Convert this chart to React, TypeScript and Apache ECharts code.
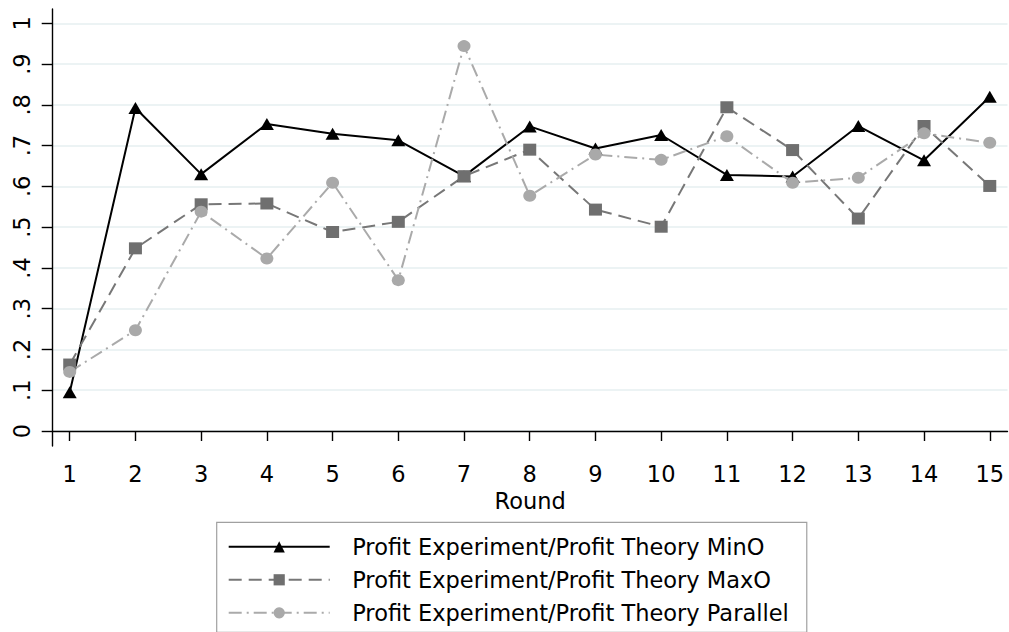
import React, { useEffect, useRef } from "react";
import * as echarts from "echarts";

const rounds = [1, 2, 3, 4, 5, 6, 7, 8, 9, 10, 11, 12, 13, 14, 15];
const minO = [0.095, 0.792, 0.63, 0.753, 0.729, 0.713, 0.625, 0.747, 0.693, 0.726, 0.628, 0.624, 0.748, 0.664, 0.82];
const maxO = [0.163, 0.448, 0.556, 0.558, 0.488, 0.513, 0.625, 0.69, 0.543, 0.501, 0.794, 0.689, 0.521, 0.748, 0.601];
const parallel = [0.145, 0.247, 0.538, 0.423, 0.609, 0.37, 0.944, 0.577, 0.678, 0.665, 0.723, 0.609, 0.621, 0.73, 0.707];
const yTickValues = [0, 0.1, 0.2, 0.3, 0.4, 0.5, 0.6, 0.7, 0.8, 0.9, 1];
const yTickLabels = ["0", ".1", ".2", ".3", ".4", ".5", ".6", ".7", ".8", ".9", "1"];
const seriesNames = [
  "Profit Experiment/Profit Theory MinO",
  "Profit Experiment/Profit Theory MaxO",
  "Profit Experiment/Profit Theory Parallel",
];
const xName = "Round";

const FONT = "DejaVu Sans";

export default function App() {
  const ref = useRef<HTMLDivElement>(null);
  useEffect(() => {
    if (!ref.current) return;
    const chart = echarts.init(ref.current, null, { renderer: "svg" });
    const pair = (arr: number[]) => rounds.map((r, i) => [r, arr[i]]);
    chart.setOption({
      animation: false,
      backgroundColor: "#ffffff",
      textStyle: { fontFamily: FONT },
      grid: { left: 52.7, right: 1.5, top: 9, bottom: 186 },
      xAxis: {
        type: "value",
        min: 0.741,
        max: 15.27,
        name: xName,
        nameLocation: "middle",
        nameGap: 35,
        nameTextStyle: { fontSize: 22.5, color: "#000", fontFamily: FONT },
        axisLine: { show: true, lineStyle: { color: "#000", width: 1.4 } },
        axisTick: { show: true, length: 10, customValues: rounds, lineStyle: { color: "#000", width: 1.4 } },
        axisLabel: { customValues: rounds, fontSize: 22.5, color: "#000", margin: 16, fontFamily: FONT },
        splitLine: { show: false },
      },
      yAxis: {
        type: "value",
        min: -0.0368,
        max: 1.035,
        axisLine: { show: true, lineStyle: { color: "#000", width: 1.4 } },
        axisTick: { show: true, length: 11, customValues: yTickValues, lineStyle: { color: "#000", width: 1.4 } },
        axisLabel: {
          customValues: yTickValues,
          rotate: 90,
          fontSize: 22.5,
          color: "#000",
          margin: 19,
          fontFamily: FONT,
          formatter: (v: number) => {
            const idx = yTickValues.findIndex((t) => Math.abs(t - v) < 1e-6);
            return idx >= 0 ? yTickLabels[idx] : "";
          },
        },
        splitLine: { show: true, lineStyle: { color: "#e6eff1", width: 1.6 } },
      },
      legend: {
        orient: "vertical",
        left: 216.7,
        top: 522.3,
        height: 100,
        padding: [13, 18, 8, 11],
        itemWidth: 101,
        itemHeight: 14,
        itemGap: 10,
        borderColor: "#a0a0a0",
        borderWidth: 1.2,
        textStyle: { fontSize: 22.5, lineHeight: 22.5, color: "#000", fontFamily: FONT, padding: [0, 0, 0, 17.5] },
        data: seriesNames,
      },
      series: [
        {
          name: seriesNames[0],
          type: "line",
          data: pair(minO),
          symbol: "triangle",
          symbolSize: [14, 12],
          itemStyle: { color: "#000000" },
          lineStyle: { color: "#000000", width: 2 },
        },
        {
          name: seriesNames[1],
          type: "line",
          data: pair(maxO),
          symbol: "rect",
          symbolSize: [13, 12],
          itemStyle: { color: "#6f6f6f" },
          lineStyle: { color: "#777777", width: 2, type: [13, 7] },
        },
        {
          name: seriesNames[2],
          type: "line",
          data: pair(parallel),
          symbol: "circle",
          symbolSize: [13, 12],
          itemStyle: { color: "#a9a9a9" },
          lineStyle: { color: "#aaaaaa", width: 2, type: [13, 5, 2, 5] },
        },
      ],
    });
    return () => chart.dispose();
  }, []);
  return (
    <div
      ref={ref}
      style={{ position: "absolute", left: 0, top: 0, width: 1009, height: 632 }}
    />
  );
}
